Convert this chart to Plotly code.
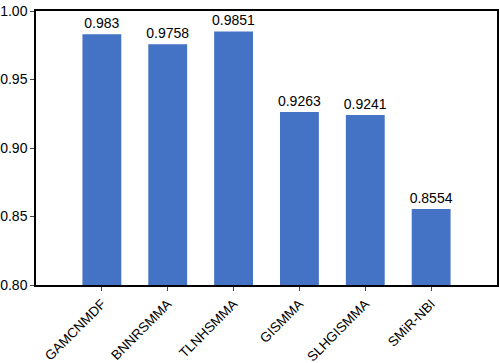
import plotly.graph_objects as go

methods = ["GAMCNMDF", "BNNRSMMA", "TLNHSMMA", "GISMMA", "SLHGISMMA", "SMiR-NBI"]
auc = [0.983, 0.9758, 0.9851, 0.9263, 0.9241, 0.8554]
labels = ["0.983", "0.9758", "0.9851", "0.9263", "0.9241", "0.8554"]
y_ticks = [0.80, 0.85, 0.90, 0.95, 1.00]

fig = go.Figure(go.Bar(
    x=list(range(len(methods))), y=auc, text=labels,
    textposition="outside", constraintext="none", cliponaxis=False,
    textfont=dict(family="Liberation Sans, Arial", size=14, color="black"),
    marker=dict(color="#4472C4", line=dict(width=0)),
    width=0.59,
))
fig.update_layout(
    width=500, height=363,
    margin=dict(l=36, r=3, t=11, b=78),
    paper_bgcolor="white", plot_bgcolor="white",
    showlegend=False,
    font=dict(family="Liberation Sans, Arial", size=14, color="black"),
)
fig.update_xaxes(
    range=[-1, 6], tickmode="array", tickvals=list(range(len(methods))),
    ticktext=methods, tickangle=-45, ticks="outside", ticklen=4, tickwidth=1,
    showline=True, linecolor="black", linewidth=1.5, mirror=True,
    showgrid=False, zeroline=False, tickfont=dict(size=13.5), automargin=False,
)
fig.update_yaxes(
    range=[0.80, 1.00], tickmode="array", tickvals=y_ticks,
    ticktext=[f"{v:.2f}" for v in y_ticks], ticks="outside", ticklen=4,
    tickwidth=1, showline=True, linecolor="black", linewidth=1.5, mirror=True,
    showgrid=False, zeroline=False, tickfont=dict(size=14), automargin=False,
)
fig.write_html("out.html")
